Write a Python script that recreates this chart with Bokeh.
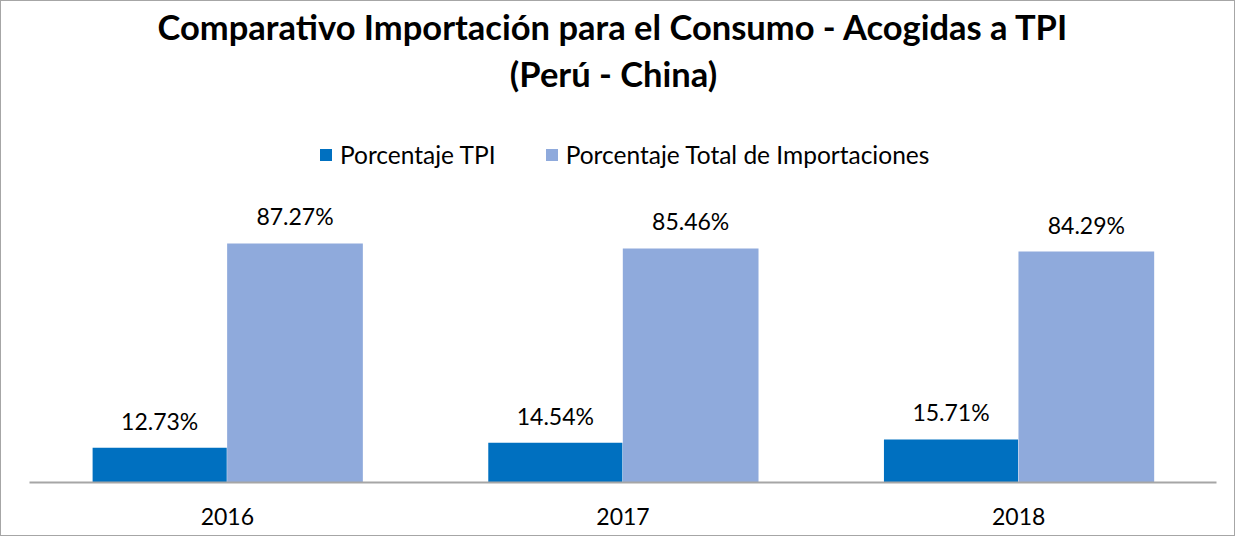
from bokeh.plotting import figure
from bokeh.models import ColumnDataSource, FactorRange, LabelSet, Label, Legend, LegendItem
from bokeh.transform import dodge
from bokeh.core.properties import value
from bokeh.embed import file_html
from bokeh.resources import INLINE

years = ["2016", "2017", "2018"]
tpi = [12.73, 14.54, 15.71]
total = [87.27, 85.46, 84.29]
series_names = ["Porcentaje TPI", "Porcentaje Total de Importaciones"]
title_lines = ["Comparativo Importación para el Consumo - Acogidas a TPI", "(Perú - China)"]

FONT = "Lato"
DARK = "#0070C0"
LIGHT = "#8FAADC"

src = ColumnDataSource(dict(
    year=years, tpi=tpi, total=total,
    tpi_lbl=[f"{v:.2f}%" for v in tpi],
    total_lbl=[f"{v:.2f}%" for v in total],
))

W, H = 1235, 536
p = figure(width=W, height=H, output_backend="svg", toolbar_location=None,
           x_range=FactorRange(factors=years, range_padding=0),
           y_range=(0, 175.6),
           min_border_left=28, min_border_right=20, min_border_top=0, min_border_bottom=55)
p.styles = {"border": "1px solid #A6A6A6", "box-sizing": "border-box"}
p.outline_line_color = None
p.xgrid.visible = False
p.ygrid.visible = False
p.yaxis.visible = False
p.background_fill_color = "white"
p.border_fill_color = "white"

r1 = p.vbar(x=dodge("year", -0.171, range=p.x_range), top="tpi", width=0.339, source=src,
            fill_color=DARK, line_color=None)
r2 = p.vbar(x=dodge("year", 0.171, range=p.x_range), top="total", width=0.343, source=src,
            fill_color=LIGHT, line_color=None)

for col, off, lbl in [("tpi", -0.171, "tpi_lbl"), ("total", 0.171, "total_lbl")]:
    ls = LabelSet(x=dodge("year", off, range=p.x_range), y=col, text=lbl, source=src,
                  text_align="center", text_baseline="alphabetic", y_offset=18,
                  text_font=value(FONT), text_font_size="23px", text_color="#000000")
    p.add_layout(ls)

ax = p.xaxis[0]
ax.axis_line_color = "#A6A6A6"
ax.axis_line_width = 2
ax.major_tick_line_color = None
ax.minor_tick_line_color = None
ax.major_label_standoff = 19
ax.major_label_text_font = FONT
ax.major_label_text_font_size = "23px"
ax.major_label_text_color = "#000000"

# title lines (screen units relative to the frame's bottom-left)
t1 = Label(x=584, y=456, x_units="screen", y_units="screen", text=title_lines[0],
           text_align="center", text_baseline="alphabetic", text_font=FONT,
           text_font_style="bold", text_font_size="34.5px", text_color="#000000")
t2 = Label(x=584, y=409, x_units="screen", y_units="screen", text=title_lines[1],
           text_align="center", text_baseline="alphabetic", text_font=FONT,
           text_font_style="bold", text_font_size="34.5px", text_color="#000000")
p.add_layout(t1)
p.add_layout(t2)

legend = Legend(items=[LegendItem(label=series_names[0], renderers=[r1]),
                       LegendItem(label=series_names[1], renderers=[r2])],
                orientation="horizontal", location=(289, 489 - 176),
                glyph_width=15, glyph_height=15, label_standoff=7, spacing=48,
                padding=0, margin=0, border_line_color=None, background_fill_alpha=0,
                label_text_font=FONT, label_text_font_size="24.5px", label_height=24,
                label_text_color="#000000")
p.add_layout(legend, "center")

open("out.html", "w").write(file_html(p, INLINE))
